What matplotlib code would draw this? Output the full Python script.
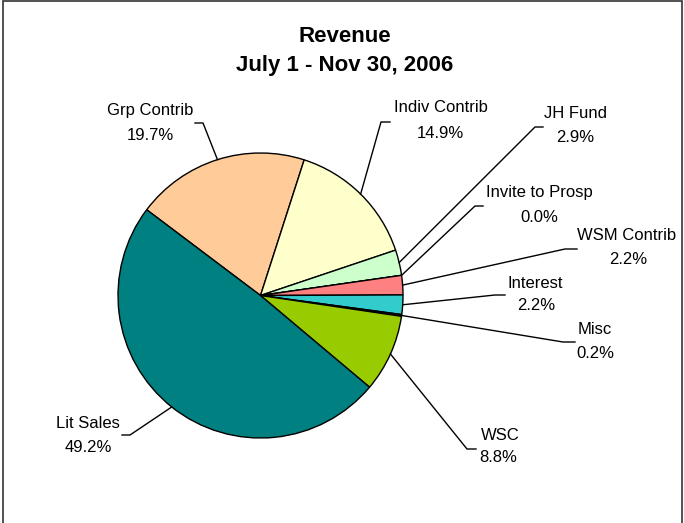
import numpy as np
import matplotlib
matplotlib.use('Agg')
import matplotlib.pyplot as plt
from matplotlib.patches import Rectangle

# slice data, clockwise from the Grp Contrib / Lit Sales boundary
labels = ['Grp Contrib', 'Indiv Contrib', 'JH Fund', 'Invite to Prosp', 'WSM Contrib',
          'Interest', 'Misc', 'WSC', 'Lit Sales']
values = [19.7, 14.9, 2.9, 0.0, 2.2, 2.2, 0.2, 8.8, 49.2]
colors = ['#FFCC99', '#FFFFCC', '#CCFFCC', '#9999FF', '#FF8080',
          '#33CCCC', '#222222', '#99CC00', '#008080']

W, H = 684, 523

# label layout in pixel coords (y down): name centre, pct centre, leader elbow x, tick end x, tick y
label_pos = {
    'Grp Contrib':     (150, 111, 150, 135, 203, 195, 123),
    'Indiv Contrib':   (441, 108, 440, 133, 381, 390, 122),
    'JH Fund':         (576, 113, 575, 138, 535, 543, 127),
    'Invite to Prosp': (539, 192, 539, 217, 475, 483, 206),
    'WSM Contrib':     (627, 236, 628, 260, 565, 577, 249),
    'Interest':        (535, 283, 536, 306, 495, 505, 295),
    'Misc':            (595, 329, 595, 353, 563, 575, 342),
    'WSC':             (500, 436, 498, 458, 467, 476, 449),
    'Lit Sales':       (88, 423, 88, 447, 130, 122, 435),
}


def py(y):
    return H - y


plt.rcParams['font.family'] = ['Liberation Sans', 'DejaVu Sans']

fig = plt.figure(figsize=(W / 100, H / 100), dpi=100)
ax = fig.add_axes([0, 0, 1, 1])

cx, cy, r = 260.5, py(295.5), 142.5
wedges, _ = ax.pie(values, colors=colors, startangle=143, counterclock=False,
                   center=(cx, cy), radius=r,
                   wedgeprops=dict(edgecolor='black', linewidth=1.0))

for w, lab, v in zip(wedges, labels, values):
    mid = np.deg2rad((w.theta1 + w.theta2) / 2)
    ex, ey = cx + r * np.cos(mid), cy + r * np.sin(mid)
    nx, ny, px_, pyy, elx, tkx, tky = label_pos[lab]
    ax.plot([ex, elx, tkx], [ey, py(tky), py(tky)], color='black', lw=1.0)
    ax.text(nx, py(ny), lab, ha='center', va='center', fontsize=12)
    ax.text(px_, py(pyy), '%.1f%%' % v, ha='center', va='center', fontsize=12)

ax.text(345, py(37), 'Revenue', ha='center', va='center', fontsize=16, fontweight='bold')
ax.text(345, py(65), 'July 1 - Nov 30, 2006', ha='center', va='center',
        fontsize=16, fontweight='bold')

# chart border (bottom edge is cut off in the original)
ax.add_patch(Rectangle((3, -10), 679, py(1) + 10, fill=False, edgecolor='#333333', lw=1.2))

ax.set_xlim(0, W)
ax.set_ylim(0, H)
ax.set_aspect('equal')
ax.axis('off')

fig.savefig('out.png', dpi=100)
